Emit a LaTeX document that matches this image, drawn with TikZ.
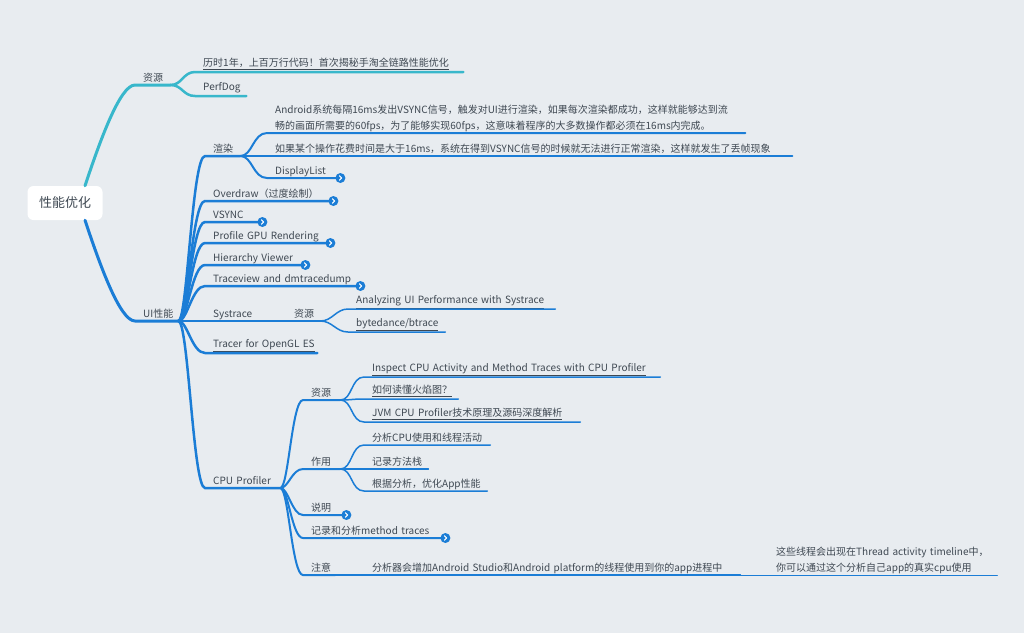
\documentclass[tikz,border=0pt]{standalone}
\usepackage{fontspec}
\setmainfont{Noto Sans CJK SC}
\definecolor{bg}{HTML}{E8ECF0}
\definecolor{txt}{HTML}{3E4852}
\definecolor{tealbr}{HTML}{38B7CB}
\definecolor{blu}{HTML}{1B7DD6}

\begin{document}
\begin{tikzpicture}[x=1pt, y=-1pt,
    root/.style={fill=white, rounded corners=6pt, minimum width=75pt, minimum height=34pt, text=txt, font=\fontsize{13}{15}\selectfont},
    topic/.style={anchor=south west, inner xsep=8pt, inner ysep=1pt, text depth=2pt, text width=#1, align=left, text=txt, font=\fontsize{10}{15.5}\selectfont},
    link/.style={topic=#1, text depth=4pt},
    twoline/.style={topic=#1, text depth=, inner ysep=1.5pt},
    more/.style={circle, fill=blu, minimum size=10pt, inner sep=0pt, path picture={\draw[white, line width=1.1pt, line cap=round, line join=round] ([xshift=-0.9pt,yshift=2.2pt]path picture bounding box.center) -- ([xshift=1.3pt]path picture bounding box.center) -- ([xshift=-0.9pt,yshift=-2.2pt]path picture bounding box.center);}},
    l1/.style={line width=3pt, line cap=round},
    l2/.style={line width=2.5pt, line cap=round},
    l3/.style={line width=2pt, line cap=round},
    l4/.style={line width=1.5pt, line cap=round},
    l5/.style={line width=1pt, line cap=round}]
    \fill[bg] (0,0) rectangle (1024,633);

    \node[root] (root) at (65,203) {性能优化};

    \node[topic=19pt] (res) at (135,85) {资源};
    \node[link=252pt] (hist) at (195,72) {\underline{历时1年，上百万行代码！首次揭秘手淘全链路性能优化}};
    \node[link=35pt] (perf) at (195,96) {\underline{PerfDog}};

    \node[topic=27pt] (ui) at (135,321) {UI性能};
    \node[topic=19pt] (render) at (205,156) {渲染};
    \node[twoline=462pt] (vsig) at (267,133) {Android系统每隔16ms发出VSYNC信号，触发对UI进行渲染，如果每次渲染都成功，这样就能够达到流\\畅的画面所需要的60fps，为了能够实现60fps，这意味着程序的大多数操作都必须在16ms内完成。};
    \node[topic=509pt] (drop) at (267,156) {如果某个操作花费时间是大于16ms，系统在得到VSYNC信号的时候就无法进行正常渲染，这样就发生了丢帧现象};
    \node[topic=57pt] (dlist) at (267,178) {DisplayList};
    \node[topic=112pt] (overdraw) at (205,201) {Overdraw（过度绘制）};
    \node[topic=41pt] (vsync) at (205,222) {VSYNC};
    \node[topic=109pt] (gpu) at (205,243) {\mbox{Profile GPU Rendering}};
    \node[topic=84pt] (hier) at (205,265) {\mbox{Hierarchy Viewer}};
    \node[topic=139pt] (tview) at (205,286) {\mbox{Traceview and dmtracedump}};
    \node[topic=37pt] (systrace) at (205,321) {Systrace};
    \node[topic=18pt] (sysres) at (286,321) {资源};
    \node[link=191pt] (ana) at (348,309) {\underline{Analyzing UI Performance with Systrace}};
    \node[link=81pt] (btrace) at (348,332) {\underline{bytedance/btrace}};
    \node[link=96pt] (tracer) at (205,353) {\underline{Tracer for OpenGL ES}};

    \node[topic=59pt] (cpu) at (205,488) {\mbox{CPU Profiler}};
    \node[topic=21pt] (cpures) at (303,400) {资源};
    \node[link=280pt] (inspect) at (364,377) {\underline{Inspect CPU Activity and Method Traces with CPU Profiler}};
    \node[link=78pt] (flame) at (364,399) {\underline{如何读懂火焰图？}};
    \node[link=200pt] (jvm) at (364,422) {\underline{JVM CPU Profiler技术原理及源码深度解析}};
    \node[topic=21pt] (cpuuse) at (303,469) {作用};
    \node[topic=110pt] (use1) at (364,445) {分析CPU使用和线程活动};
    \node[topic=48pt] (use2) at (364,469) {记录方法栈};
    \node[topic=107pt] (use3) at (364,491) {根据分析，优化App性能};
    \node[topic=27pt] (note) at (303,515) {说明};
    \node[topic=126pt] (rec) at (303,538) {\mbox{记录和分析method traces}};
    \node[topic=16pt] (care) at (303,575) {注意};
    \node[topic=360pt] (extra) at (364,575) {\mbox{分析器会增加Android Studio和Android platform的线程使用到你的app进程中}};
    \node[twoline=213pt] (tline) at (768,575) {\mbox{这些线程会出现在Thread activity timeline中，}\\你可以通过这个分析自己app的真实cpu使用};

    \draw[l1, tealbr] ([xshift=20pt]root.north) .. controls +(15,-45) and +(-15,0) .. (res.south west) -- (res.south east);
    \draw[l2, tealbr] (res.south east) .. controls +(12,0) and +(-12,0) .. (hist.south west) -- (hist.south east);
    \draw[l2, tealbr] (res.south east) .. controls +(12,0) and +(-12,0) .. (perf.south west) -- (perf.south east);

    \draw[l1, blu] ([xshift=20pt]root.south) .. controls +(15,45) and +(-15,0) .. (ui.south west) -- (ui.south east);
    \draw[l2, blu] (ui.south east) .. controls +(9,0) and +(-13,0) .. (render.south west) -- (render.south east);
    \draw[l2, blu] (ui.south east) .. controls +(9,0) and +(-13,0) .. (overdraw.south west) -- (overdraw.south east);
    \draw[l2, blu] (ui.south east) .. controls +(9,0) and +(-13,0) .. (vsync.south west) -- (vsync.south east);
    \draw[l2, blu] (ui.south east) .. controls +(9,0) and +(-13,0) .. (gpu.south west) -- (gpu.south east);
    \draw[l2, blu] (ui.south east) .. controls +(9,0) and +(-13,0) .. (hier.south west) -- (hier.south east);
    \draw[l2, blu] (ui.south east) .. controls +(9,0) and +(-13,0) .. (tview.south west) -- (tview.south east);
    \draw[l2, blu] (ui.south east) -- (systrace.south west) -- (systrace.south east);
    \draw[l2, blu] (ui.south east) .. controls +(9,0) and +(-13,0) .. (tracer.south west) -- (tracer.south east);
    \draw[l2, blu] (ui.south east) .. controls +(10,0) and +(-12,0) .. (cpu.south west) -- (cpu.south east);

    \draw[l3, blu] (render.south east) .. controls +(12,0) and +(-14,0) .. (vsig.south west) -- (vsig.south east);
    \draw[l3, blu] (render.south east) -- (drop.south west) -- (drop.south east);
    \draw[l3, blu] (render.south east) .. controls +(12,0) and +(-14,0) .. (dlist.south west) -- (dlist.south east);
    \draw[l3, blu] (systrace.south east) -- (sysres.south west) -- (sysres.south east);
    \draw[l4, blu] (sysres.south east) .. controls +(12,0) and +(-12,0) .. (ana.south west) -- (ana.south east);
    \draw[l4, blu] (sysres.south east) .. controls +(12,0) and +(-12,0) .. (btrace.south west) -- (btrace.south east);

    \draw[l3, blu] (cpu.south east) .. controls +(8,0) and +(-11,0) .. (cpures.south west) -- (cpures.south east);
    \draw[l3, blu] (cpu.south east) .. controls +(8,0) and +(-11,0) .. (cpuuse.south west) -- (cpuuse.south east);
    \draw[l3, blu] (cpu.south east) .. controls +(8,0) and +(-11,0) .. (note.south west) -- (note.south east);
    \draw[l3, blu] (cpu.south east) .. controls +(8,0) and +(-11,0) .. (rec.south west) -- (rec.south east);
    \draw[l3, blu] (cpu.south east) .. controls +(8,0) and +(-11,0) .. (care.south west) -- (care.south east);
    \draw[l4, blu] (cpures.south east) .. controls +(12,0) and +(-13,0) .. (inspect.south west) -- (inspect.south east);
    \draw[l4, blu] (cpures.south east) .. controls +(12,0) and +(-13,0) .. (flame.south west) -- (flame.south east);
    \draw[l4, blu] (cpures.south east) .. controls +(12,0) and +(-13,0) .. (jvm.south west) -- (jvm.south east);
    \draw[l4, blu] (cpuuse.south east) .. controls +(12,0) and +(-13,0) .. (use1.south west) -- (use1.south east);
    \draw[l4, blu] (cpuuse.south east) -- (use2.south west) -- (use2.south east);
    \draw[l4, blu] (cpuuse.south east) .. controls +(12,0) and +(-13,0) .. (use3.south west) -- (use3.south east);
    \draw[l4, blu] (care.south east) -- (extra.south west) -- (extra.south east);
    \draw[l5, blu] (extra.south east) -- (tline.south west) -- (tline.south east);

    \node[more] (dlistm) at (dlist.south east) {};
    \node[more] (overdrawm) at (overdraw.south east) {};
    \node[more] (vsyncm) at (vsync.south east) {};
    \node[more] (gpum) at (gpu.south east) {};
    \node[more] (hierm) at (hier.south east) {};
    \node[more] (tviewm) at (tview.south east) {};
    \node[more] (notem) at (note.south east) {};
    \node[more] (recm) at (rec.south east) {};
\end{tikzpicture}
\end{document}
